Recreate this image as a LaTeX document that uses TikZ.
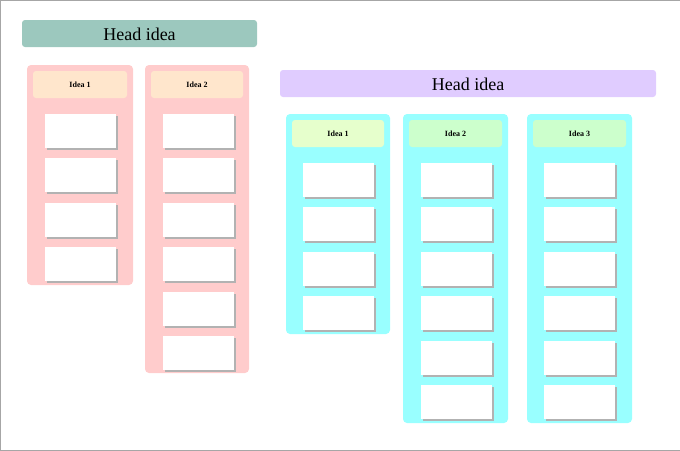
\documentclass[tikz,border=0pt]{standalone}
\usepackage{fontspec}
\setmainfont{Liberation Serif}
\begin{document}
\begin{tikzpicture}[x=1pt,y=-1pt,
 col/.style={rounded corners=4pt},
 hd/.style={rounded corners=3pt},
 card/.style={fill=white}]
\useasboundingbox (0,0) rectangle (680,450);
\draw[gray!70,line width=1pt] (0,0) rectangle (680,450);
\definecolor{teal1}{HTML}{9CC8BE}
\definecolor{pinkc}{HTML}{FFCCCC}
\definecolor{peach}{HTML}{FFE6CC}
\definecolor{lilac}{HTML}{E0CCFF}
\definecolor{cyanc}{HTML}{99FFFF}
\definecolor{lime1}{HTML}{E6FFCC}
\definecolor{lime2}{HTML}{CCFFCC}
% left group
\fill[teal1,hd] (22,20) rectangle (257,47);
\node (h1) at (139.5,34) {\fontsize{18}{20}\selectfont Head idea};
\newcommand\column[7]{% x1 x2 ybottom colcolor hdcolor label ncards
  \fill[#4,col] (#1,#6) rectangle (#2,#3);
  \fill[#5,hd] ({#1+6},{#6+6}) rectangle ({#2-6},{#6+33});
  \node at ({(#1+#2)/2},{#6+19.5}) {\fontsize{8}{9}\selectfont\bfseries #7};
}
\newcommand\cards[4]{% xleft ytop count
  \foreach \i in {1,...,#3}{
    \pgfmathsetmacro\yy{#2+(\i-1)*44.4}
    \fill[black!30] ({#1+2},{\yy+2}) rectangle ({#1+73},{\yy+36});
    \fill[white] (#1,\yy) rectangle ({#1+71},{\yy+34});
  }
}
\column{27}{133}{285}{pinkc}{peach}{65}{Idea 1}
\cards{45}{114}{4}{}
\column{145}{249}{373}{pinkc}{peach}{65}{Idea 2}
\cards{163}{114}{6}{}
% right group
\fill[lilac,hd] (280,70) rectangle (656,97);
\node (h2) at (468,84) {\fontsize{18}{20}\selectfont Head idea};
\column{286}{390}{334}{cyanc}{lime1}{114}{Idea 1}
\cards{303}{163}{4}{}
\column{403}{508}{423}{cyanc}{lime2}{114}{Idea 2}
\cards{421}{163}{6}{}
\column{527}{632}{423}{cyanc}{lime2}{114}{Idea 3}
\cards{544}{163}{6}{}
\end{tikzpicture}
\end{document}
